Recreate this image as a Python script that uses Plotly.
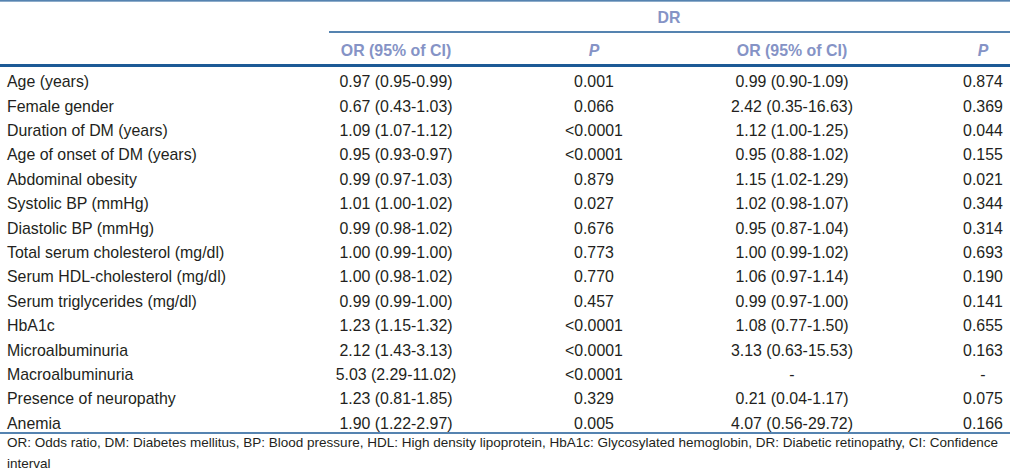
import plotly.graph_objects as go

# ---- data ----
variables = ["Age (years)", "Female gender", "Duration of DM (years)", "Age of onset of DM (years)",
             "Abdominal obesity", "Systolic BP (mmHg)", "Diastolic BP (mmHg)",
             "Total serum cholesterol (mg/dl)", "Serum HDL-cholesterol (mg/dl)",
             "Serum triglycerides (mg/dl)", "HbA1c", "Microalbuminuria", "Macroalbuminuria",
             "Presence of neuropathy", "Anemia"]
or_ci_1 = ["0.97 (0.95-0.99)", "0.67 (0.43-1.03)", "1.09 (1.07-1.12)", "0.95 (0.93-0.97)",
           "0.99 (0.97-1.03)", "1.01 (1.00-1.02)", "0.99 (0.98-1.02)", "1.00 (0.99-1.00)",
           "1.00 (0.98-1.02)", "0.99 (0.99-1.00)", "1.23 (1.15-1.32)", "2.12 (1.43-3.13)",
           "5.03 (2.29-11.02)", "1.23 (0.81-1.85)", "1.90 (1.22-2.97)"]
p_1 = ["0.001", "0.066", "<0.0001", "<0.0001", "0.879", "0.027", "0.676", "0.773", "0.770",
       "0.457", "<0.0001", "<0.0001", "<0.0001", "0.329", "0.005"]
or_ci_2 = ["0.99 (0.90-1.09)", "2.42 (0.35-16.63)", "1.12 (1.00-1.25)", "0.95 (0.88-1.02)",
           "1.15 (1.02-1.29)", "1.02 (0.98-1.07)", "0.95 (0.87-1.04)", "1.00 (0.99-1.02)",
           "1.06 (0.97-1.14)", "0.99 (0.97-1.00)", "1.08 (0.77-1.50)", "3.13 (0.63-15.53)",
           "-", "0.21 (0.04-1.17)", "4.07 (0.56-29.72)"]
p_2 = ["0.874", "0.369", "0.044", "0.155", "0.021", "0.344", "0.314", "0.693", "0.190",
       "0.141", "0.655", "0.163", "-", "0.075", "0.166"]
group_label = "DR"
col_headers = ["OR (95% of CI)", "P", "OR (95% of CI)", "P"]
footnote = ["OR: Odds ratio, DM: Diabetes mellitus, BP: Blood pressure, HDL: High density lipoprotein, "
            "HbA1c: Glycosylated hemoglobin, DR: Diabetic retinopathy, CI: Confidence",
            "interval"]

# ---- layout constants ----
W, H = 1010, 473
FONT = "Liberation Sans, Arial, Helvetica, sans-serif"
BODY = "#231f20"
HEAD = "#8593c6"
LINE = "#1d5a96"
row0, dy = 83.3, 24.4
col_x = [396, 594, 792, 983]
label_x = 7
FS = 15.9

def esc(s):
    return s.replace("<", "&lt;")

ys = [row0 + i * dy for i in range(len(variables))]

fig = go.Figure()
fig.add_trace(go.Scatter(x=[label_x] * len(variables), y=ys, text=variables, mode="text",
                         textposition="middle right",
                         textfont=dict(family=FONT, size=FS, color=BODY),
                         hoverinfo="skip", showlegend=False, cliponaxis=False))
for cx, col in zip(col_x, [or_ci_1, p_1, or_ci_2, p_2]):
    fig.add_trace(go.Scatter(x=[cx] * len(col), y=ys, text=[esc(v) for v in col], mode="text",
                             textposition="middle center",
                             textfont=dict(family=FONT, size=FS, color=BODY),
                             hoverinfo="skip", showlegend=False, cliponaxis=False))

# headers
hdr_text = ["<b>" + h + "</b>" if h != "P" else "<b><i>P</i></b>" for h in col_headers]
fig.add_trace(go.Scatter(x=col_x, y=[52] * 4, text=hdr_text, mode="text",
                         textposition="middle center",
                         textfont=dict(family=FONT, size=FS, color=HEAD),
                         hoverinfo="skip", showlegend=False, cliponaxis=False))
fig.add_trace(go.Scatter(x=[669], y=[19.5], text=["<b>" + group_label + "</b>"], mode="text",
                         textposition="middle center",
                         textfont=dict(family=FONT, size=FS, color=HEAD),
                         hoverinfo="skip", showlegend=False, cliponaxis=False))
# footnote
fig.add_trace(go.Scatter(x=[label_x, label_x], y=[444, 465], text=footnote, mode="text",
                         textposition="middle right",
                         textfont=dict(family=FONT, size=13.5, color=BODY),
                         hoverinfo="skip", showlegend=False, cliponaxis=False))

shapes = [
    dict(type="line", x0=0, x1=W, y0=0.8, y1=0.8, line=dict(color=LINE, width=1.2)),
    dict(type="line", x0=329, x1=W, y0=32, y1=32, line=dict(color=LINE, width=1.4)),
    dict(type="line", x0=0, x1=W, y0=65.5, y1=65.5, line=dict(color=LINE, width=3)),
    dict(type="line", x0=0, x1=W, y0=433, y1=433, line=dict(color=LINE, width=1.4)),
]
fig.update_layout(
    width=W, height=H, margin=dict(l=0, r=0, t=0, b=0),
    paper_bgcolor="white", plot_bgcolor="white",
    xaxis=dict(range=[0, W], visible=False, fixedrange=True),
    yaxis=dict(range=[H, 0], visible=False, fixedrange=True),
    shapes=shapes,
)
fig.write_html("out.html", config={"displayModeBar": False},
               post_script="document.body.style.margin='0px';document.body.style.overflow='hidden';")
